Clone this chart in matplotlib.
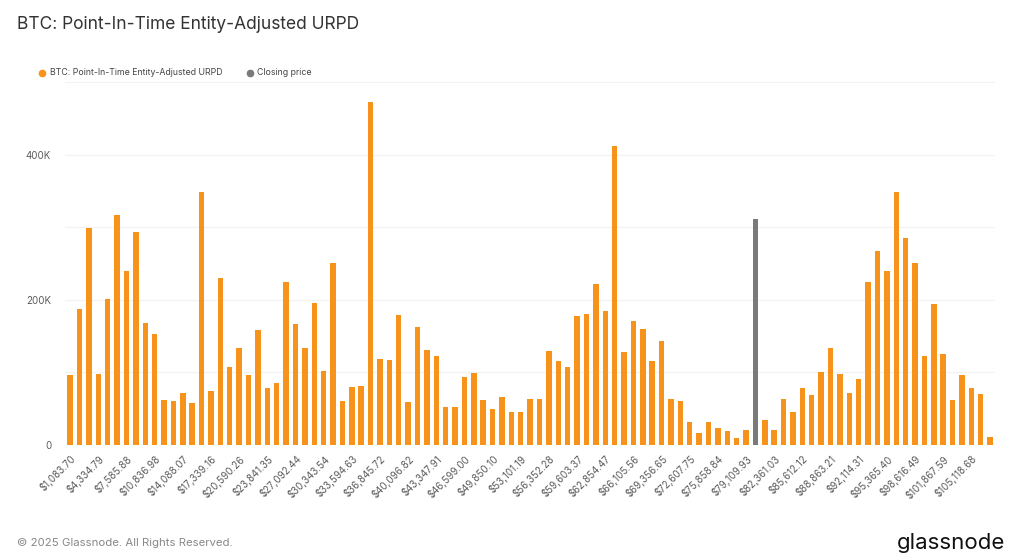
import numpy as np
import matplotlib.pyplot as plt
from matplotlib.lines import Line2D

plt.rcParams['font.family'] = ['Inter', 'DejaVu Sans']

# URPD supply per price bucket (BTC); bucket 73 holds the closing price
urpd = [96, 187, 299, 98, 201, 317, 239, 294, 168, 153,
        62, 61, 72, 58, 349, 75, 230, 108, 133, 96,
        159, 79, 86, 225, 166, 133, 196, 102, 251, 61,
        80, 81, 472, 119, 117, 179, 59, 163, 131, 122,
        52, 52, 94, 99, 62, 49, 66, 46, 46, 64,
        64, 129, 116, 107, 177, 181, 222, 184, 412, 128,
        171, 160, 115, 143, 64, 60, 31, 17, 32, 23,
        19, 10, 21, np.nan, 35, 20, 63, 46, 79, 69,
        100, 133, 98, 71, 91, 225, 267, 240, 348, 285,
        250, 123, 194, 126, 62, 97, 78, 70, 11]
urpd = np.array(urpd, dtype=float) * 1000

closing_idx = 73
closing_value = 311 * 1000

tick_labels = ['$1,083.70', '$4,334.79', '$7,585.88', '$10,836.98', '$14,088.07',
               '$17,339.16', '$20,590.26', '$23,841.35', '$27,092.44', '$30,343.54',
               '$33,594.63', '$36,845.72', '$40,096.82', '$43,347.91', '$46,599.00',
               '$49,850.10', '$53,101.19', '$56,352.28', '$59,603.37', '$62,854.47',
               '$66,105.56', '$69,356.65', '$72,607.75', '$75,858.84', '$79,109.93',
               '$82,361.03', '$85,612.12', '$88,863.21', '$92,114.31', '$95,365.40',
               '$98,616.49', '$101,867.59', '$105,118.68']

orange = '#f7931a'
grey = '#7a7a7a'

fig = plt.figure(figsize=(10.24, 5.6), dpi=100)
ax = fig.add_axes([0.0635, 0.2054, 0.908, 0.6482])

x = np.arange(len(urpd))
ax.bar(x, urpd, width=0.58, color=orange, zorder=3)
ax.bar([closing_idx], [closing_value], width=0.58, color=grey, zorder=3)

ax.set_xlim(-0.55, 98.5)
ax.set_ylim(0, 500000)
ax.set_yticks([0, 100000, 200000, 300000, 400000, 500000])
ax.set_yticklabels(['0', '', '200K', '', '400K', ''])
ax.grid(axis='y', color='#f2f2f2', linewidth=0.8, zorder=0)
ax.set_xticks(x[::3])
ax.set_xticklabels(tick_labels, rotation=45, ha='right', rotation_mode='anchor')
ax.tick_params(length=0, labelsize=7, colors='#5a5a5a')
ax.tick_params(axis='x', pad=6)
ax.tick_params(axis='y', pad=10)
for s in ax.spines.values():
    s.set_visible(False)
ax.axhline(0, color='#e6e6e6', linewidth=0.8, zorder=1)

fig.text(0.0166, 0.957, 'BTC: Point-In-Time Entity-Adjusted URPD', fontsize=12.5,
         color='#333333', va='center')

# legend
fig.add_artist(Line2D([0.0415], [0.870], marker='o', color=orange, markersize=4.5,
                      transform=fig.transFigure))
fig.text(0.049, 0.870, 'BTC: Point-In-Time Entity-Adjusted URPD', fontsize=6.3,
         color='#444444', va='center')
fig.add_artist(Line2D([0.2445], [0.870], marker='o', color=grey, markersize=4.5,
                      transform=fig.transFigure))
fig.text(0.2505, 0.870, 'Closing price', fontsize=6.3, color='#444444', va='center')

fig.text(0.0166, 0.030, '\u00a9 2025 Glassnode. All Rights Reserved.', fontsize=8.2,
         color='#888888', va='center')
fig.text(0.982, 0.030, 'glassnode', fontsize=16, color='#111111', va='center',
         ha='right')

fig.savefig('out.png', dpi=100, facecolor='white')
